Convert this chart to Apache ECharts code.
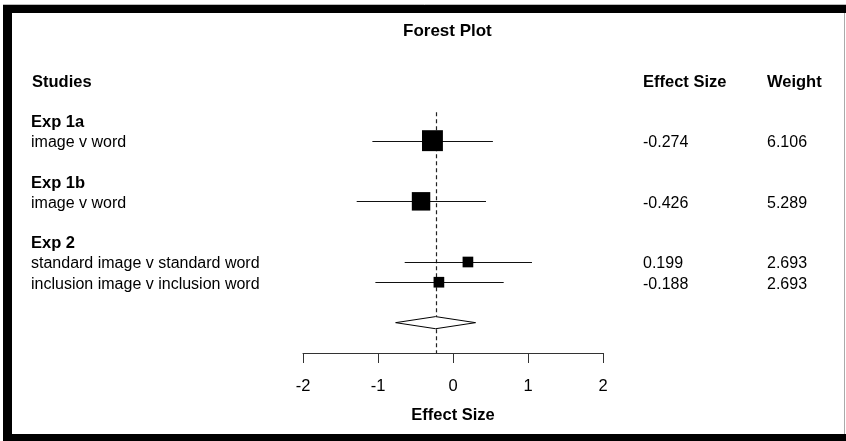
<!DOCTYPE html>
<html><head><meta charset="utf-8">
<script src="https://cdn.jsdelivr.net/npm/echarts@6/dist/echarts.min.js"></script>
<style>html,body{margin:0;padding:0;background:#fff}#c{width:846px;height:441px}</style>
</head><body><div id="c"></div>
<script>
// ---- data ----
const groups = ['Exp 1a', 'Exp 1b', 'Exp 2'];
const studyGroup = [0, 1, 2, 2];
const studyLabels = ['image v word', 'image v word', 'standard image v standard word', 'inclusion image v inclusion word'];
const effectSizes = [-0.274, -0.426, 0.199, -0.188];
const ciLower = [-1.075, -1.284, -0.644, -1.035];
const ciUpper = [0.532, 0.440, 1.053, 0.676];
const weights = [6.106, 5.289, 2.693, 2.693];
const summary = { est: -0.232, lo: -0.765, hi: 0.301 };
const xTicks = [-2, -1, 0, 1, 2];
const headers = ['Studies', 'Effect Size', 'Weight'];

// ---- layout (row positions derived from group structure) ----
const FONT = 'Liberation Sans, Arial, sans-serif';
let cur = 2;
const groupRow = [], studyRow = [];
groups.forEach((g, gi) => {
  groupRow[gi] = cur;
  let n = 0;
  studyGroup.forEach((sg, si) => { if (sg === gi) { n++; studyRow[si] = cur + n; } });
  cur += n + 2;
});
const summaryRow = cur;
const axisRow = summaryRow + 1.5;

const COL_STUDY = 31, COL_ES = 643, COL_W = 767;
const texts = [];
texts.push({ k: 0, x: COL_STUDY + 1, t: headers[0], b: true });
texts.push({ k: 0, x: COL_ES, t: headers[1], b: true });
texts.push({ k: 0, x: COL_W, t: headers[2], b: true });
groups.forEach((g, gi) => texts.push({ k: groupRow[gi], x: COL_STUDY, t: g, b: true }));
studyLabels.forEach((s, i) => {
  texts.push({ k: studyRow[i], x: COL_STUDY, t: s, b: false });
  texts.push({ k: studyRow[i], x: COL_ES, t: effectSizes[i].toFixed(3), b: false });
  texts.push({ k: studyRow[i], x: COL_W, t: weights[i].toFixed(3), b: false });
});

const studyData = effectSizes.map((e, i) => [studyRow[i], ciLower[i], ciUpper[i], e, weights[i]]);

const chart = echarts.init(document.getElementById('c'), null, { renderer: 'canvas' });
chart.setOption({
  animation: false,
  backgroundColor: '#fff',
  title: { text: 'Forest Plot', left: 403, top: 23, padding: 0, textStyle: { fontFamily: FONT, fontSize: 17, fontWeight: 'bold', color: '#000' } },
  grid: { left: 303, right: 243, top: 80, bottom: 88 },
  xAxis: {
    type: 'value', min: xTicks[0], max: xTicks[xTicks.length - 1], interval: 1,
    name: 'Effect Size', nameLocation: 'middle', nameGap: 54,
    nameTextStyle: { fontFamily: FONT, fontSize: 16.5, fontWeight: 'bold', color: '#000' },
    axisLine: { show: true, onZero: false, lineStyle: { color: '#333', width: 1 } },
    axisTick: { show: true, length: 10, lineStyle: { color: '#333' } },
    axisLabel: { fontFamily: FONT, fontSize: 16.5, color: '#000', margin: 25 },
    splitLine: { show: false }
  },
  yAxis: { type: 'value', min: 0, max: axisRow, inverse: true, show: false },
  graphic: [
    { type: 'rect', shape: { x: 3, y: 5, width: 843, height: 8 }, style: { fill: '#000' } },
    { type: 'rect', shape: { x: 3, y: 5, width: 9, height: 436 }, style: { fill: '#000' } },
    { type: 'rect', shape: { x: 3, y: 434, width: 843, height: 7 }, style: { fill: '#000' } },
    { type: 'line', shape: { x1: 844.5, y1: 13, x2: 844.5, y2: 434 }, style: { stroke: '#aaa', lineWidth: 1 } },
    { type: 'line', shape: { x1: 3, y1: 4.5, x2: 846, y2: 4.5 }, style: { stroke: '#bbb', lineWidth: 1 } }
  ],
  series: [
    { // dashed summary line
      type: 'custom', silent: true, clip: false,
      data: [[summary.est]],
      renderItem: (params, api) => {
        const a = api.coord([api.value(0), 1.6]);
        const b = api.coord([api.value(0), axisRow]);
        const x = Math.round(a[0]) + 0.5;
        return { type: 'line', shape: { x1: x, y1: a[1], x2: x, y2: b[1] }, style: { stroke: '#222', lineWidth: 1.2, lineDash: [4, 3] } };
      }
    },
    { // CI lines + squares
      type: 'custom', silent: true, clip: false,
      data: studyData,
      renderItem: (params, api) => {
        const k = api.value(0);
        const p1 = api.coord([api.value(1), k]);
        const p2 = api.coord([api.value(2), k]);
        const pe = api.coord([api.value(3), k]);
        const s = 2.6 + 3.0 * api.value(4);
        const y = Math.round(p1[1]) + 0.5;
        return { type: 'group', children: [
          { type: 'line', shape: { x1: p1[0], y1: y, x2: p2[0], y2: y }, style: { stroke: '#111', lineWidth: 1 } },
          { type: 'rect', shape: { x: pe[0] - s / 2, y: pe[1] - s / 2, width: s, height: s }, style: { fill: '#000' } }
        ] };
      }
    },
    { // summary diamond
      type: 'custom', silent: true, clip: false,
      data: [[summaryRow, summary.lo, summary.est, summary.hi]],
      renderItem: (params, api) => {
        const k = api.value(0);
        const l = api.coord([api.value(1), k]);
        const t = api.coord([api.value(2), k - 0.3]);
        const r = api.coord([api.value(3), k]);
        const b = api.coord([api.value(2), k + 0.3]);
        return { type: 'polygon', shape: { points: [l, t, r, b] }, style: { fill: '#fff', stroke: '#000', lineWidth: 1 } };
      }
    },
    { // table text
      type: 'custom', silent: true, clip: false,
      data: texts.map((d, i) => [d.k, i]),
      renderItem: (params, api) => {
        const d = texts[api.value(1)];
        const p = api.coord([0, api.value(0)]);
        return { type: 'text', x: d.x, y: p[1] + 2, style: { text: d.t, fontFamily: FONT, fontSize: d.b ? 16.5 : 16, fontWeight: d.b ? 'bold' : 'normal', fill: '#000', verticalAlign: 'middle', align: 'left' } };
      }
    }
  ]
});
</script></body></html>
